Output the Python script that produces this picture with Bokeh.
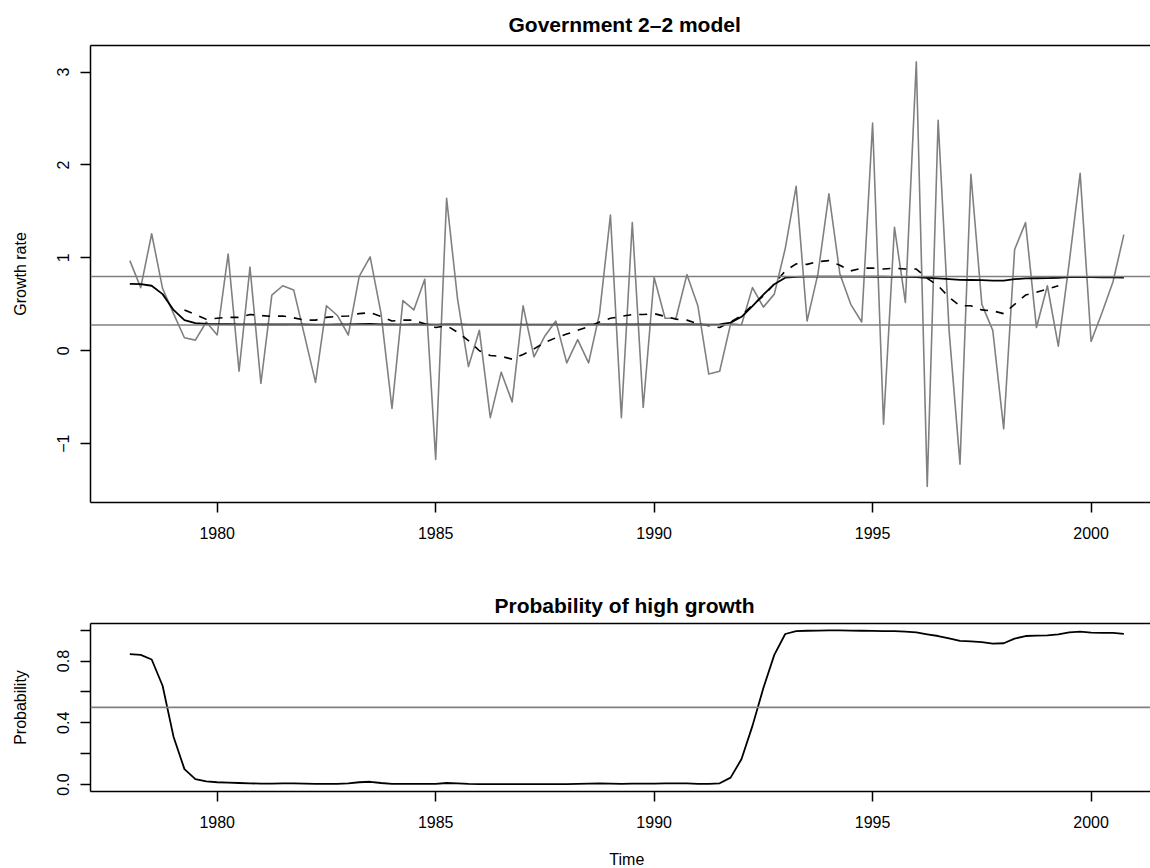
import numpy as np
from bokeh.plotting import figure
from bokeh.models import (Range1d, Span, Title, FixedTicker, LinearAxis,
                          PrintfTickFormatter, ColumnDataSource)
from bokeh.core.properties import value
from bokeh.layouts import column
from bokeh.embed import file_html
from bokeh.resources import INLINE

# ---------------- data ----------------
start_year = 1978.0
periods_per_year = 4

growth = [0.97, 0.68, 1.26, 0.67, 0.40, 0.14, 0.115, 0.31, 0.17, 1.04,
          -0.22, 0.90, -0.35, 0.60, 0.70, 0.655, 0.16, -0.34, 0.485, 0.38,
          0.17, 0.80, 1.01, 0.40, -0.62, 0.54, 0.44, 0.77, -1.17, 1.64,
          0.56, -0.17, 0.22, -0.72, -0.23, -0.55, 0.485, -0.065, 0.16, 0.32,
          -0.13, 0.12, -0.13, 0.40, 1.46, -0.72, 1.38, -0.61, 0.79, 0.35,
          0.35, 0.82, 0.485, -0.25, -0.22, 0.29, 0.28, 0.68, 0.47, 0.61,
          1.10, 1.77, 0.32, 0.83, 1.69, 0.83, 0.50, 0.31, 2.45, -0.79,
          1.33, 0.52, 3.11, -1.46, 2.48, 0.22, -1.22, 1.90, 0.50, 0.22,
          -0.84, 1.09, 1.38, 0.25, 0.70, 0.05, 0.95, 1.91, 0.10, 0.41,
          0.74, 1.25]

smoothed = [0.720, 0.717, 0.700, 0.610, 0.440, 0.330, 0.297, 0.290, 0.288, 0.286,
            0.285, 0.284, 0.283, 0.283, 0.283, 0.284, 0.283, 0.282, 0.282, 0.283,
            0.284, 0.288, 0.290, 0.285, 0.283, 0.282, 0.283, 0.283, 0.282, 0.285,
            0.284, 0.282, 0.282, 0.282, 0.282, 0.282, 0.282, 0.282, 0.282, 0.282,
            0.282, 0.282, 0.283, 0.284, 0.283, 0.283, 0.283, 0.283, 0.283, 0.284,
            0.284, 0.284, 0.283, 0.282, 0.284, 0.303, 0.366, 0.480, 0.605, 0.717,
            0.787, 0.796, 0.798, 0.798, 0.799, 0.799, 0.798, 0.798, 0.797, 0.797,
            0.796, 0.795, 0.792, 0.786, 0.780, 0.772, 0.763, 0.762, 0.760, 0.755,
            0.756, 0.771, 0.780, 0.781, 0.782, 0.786, 0.793, 0.795, 0.792, 0.791,
            0.791, 0.788]

filtered = [None, None, None, None, None, 0.44, 0.39, 0.34, 0.35, 0.36,
            0.36, 0.39, 0.38, 0.37, 0.375, 0.355, 0.33, 0.33, 0.36, 0.37,
            0.375, 0.40, 0.41, 0.37, 0.32, 0.33, 0.33, 0.29, 0.25, 0.27,
            0.20, 0.11, 0.00, -0.05, -0.06, -0.09, -0.04, 0.02, 0.09, 0.14,
            0.18, 0.22, 0.26, 0.31, 0.35, 0.37, 0.39, 0.39, 0.40, 0.37,
            0.34, 0.33, 0.29, 0.27, 0.25, 0.31, 0.38, 0.49, 0.59, 0.72,
            0.86, 0.935, 0.93, 0.96, 0.97, 0.92, 0.86, 0.89, 0.89, 0.88,
            0.89, 0.88, 0.88, 0.78, 0.70, 0.575, 0.485, 0.485, 0.44, 0.43,
            0.40, 0.50, 0.60, 0.63, 0.665, 0.70, None, None, None, None,
            None, None]

prob_high = [0.845, 0.840, 0.810, 0.640, 0.310, 0.100, 0.035, 0.020, 0.015, 0.012,
             0.010, 0.008, 0.006, 0.006, 0.007, 0.008, 0.006, 0.004, 0.004, 0.005,
             0.008, 0.015, 0.018, 0.010, 0.005, 0.004, 0.005, 0.005, 0.004, 0.010,
             0.008, 0.004, 0.003, 0.003, 0.003, 0.003, 0.003, 0.003, 0.003, 0.003,
             0.003, 0.004, 0.006, 0.008, 0.006, 0.005, 0.006, 0.006, 0.006, 0.007,
             0.008, 0.007, 0.005, 0.004, 0.008, 0.045, 0.165, 0.380, 0.625, 0.840,
             0.975, 0.993, 0.996, 0.997, 0.998, 0.998, 0.997, 0.996, 0.995, 0.994,
             0.993, 0.990, 0.985, 0.973, 0.962, 0.946, 0.930, 0.927, 0.923, 0.913,
             0.915, 0.945, 0.962, 0.964, 0.966, 0.973, 0.986, 0.990, 0.984, 0.982,
             0.982, 0.976]

mu_low = 0.277
mu_high = 0.80
prob_threshold = 0.5

x_ticks = [1980, 1985, 1990, 1995, 2000]
growth_ticks = [-1, 0, 1, 2, 3]
prob_ticks = [0.0, 0.4, 0.8]
prob_minor_ticks = [0.2, 0.6, 1.0]

title_top = "Government 2–2 model"
title_bottom = "Probability of high growth"
ylabel_top = "Growth rate"
ylabel_bottom = "Probability"
xlabel = "Time"

# ---------------- derived ----------------
n = len(growth)
time = start_year + np.arange(n) / periods_per_year
src = ColumnDataSource(dict(
    t=time,
    g=np.array(growth, dtype=float),
    s=np.array(smoothed, dtype=float),
    f=np.array([np.nan if v is None else v for v in filtered], dtype=float),
    p=np.array(prob_high, dtype=float),
))

FONT = "Liberation Sans"
GRAY = "#808080"
X0, X1 = 1977.10, 2001.36
XMID = (time[0] + time[-1]) / 2


def style(p, major, minor, ylabel):
    p.outline_line_color = None
    p.grid.visible = False
    p.background_fill_color = "white"
    p.border_fill_color = "white"
    xa = p.xaxis[0]
    xa.ticker = FixedTicker(ticks=x_ticks, minor_ticks=[])
    ya = p.yaxis[0]
    ya.ticker = FixedTicker(ticks=major, minor_ticks=minor)
    for ax in (xa, ya):
        ax.axis_line_color = "black"
        ax.axis_line_width = 1.5
        ax.major_tick_line_color = "black"
        ax.major_tick_line_width = 1.5
        ax.major_tick_in = 0
        ax.major_tick_out = 10
        ax.minor_tick_line_color = "black"
        ax.minor_tick_line_width = 1.5
        ax.minor_tick_in = 0
        ax.minor_tick_out = 10
        ax.major_label_text_font = FONT
        ax.major_label_text_font_size = "16px"
        ax.major_label_text_color = "black"
    xa.major_label_standoff = 14
    ya.major_label_standoff = 11
    ya.major_label_orientation = "vertical"
    ya.axis_label = ylabel
    ya.axis_label_text_font = FONT
    ya.axis_label_text_font_size = "16px"
    ya.axis_label_text_font_style = "normal"
    ya.axis_label_text_color = "black"
    ya.axis_label_standoff = 26
    top = LinearAxis(ticker=FixedTicker(ticks=[]), axis_line_color="black",
                     axis_line_width=1.5, major_tick_line_color=None,
                     minor_tick_line_color=None, major_label_text_font_size="0px",
                     major_label_standoff=0, major_tick_out=0, major_tick_in=0)
    p.add_layout(top, "above")


def add_title(p, text, offset, standoff):
    p.add_layout(Title(text=text, align="left", offset=offset,
                       text_font=FONT, text_font_size="21px",
                       text_font_style="bold", text_color="black",
                       standoff=standoff), "above")


# ---------------- top panel ----------------
p1 = figure(width=1150, height=560, x_range=Range1d(X0, X1),
            y_range=Range1d(-1.633, 3.286), output_backend="svg",
            toolbar_location=None, min_border_left=90, min_border_right=0,
            min_border_top=45, min_border_bottom=58)
style(p1, growth_ticks, [], ylabel_top)
p1.yaxis[0].major_label_overrides = {-1: "−1"}
add_title(p1, title_top, 418, 19)

p1.line("t", "g", source=src, line_color=GRAY, line_width=1.6, line_join="round")
p1.add_layout(Span(location=mu_high, dimension="width", line_color=GRAY, line_width=1.6))
p1.add_layout(Span(location=mu_low, dimension="width", line_color=GRAY, line_width=1.6))
p1.line("t", "f", source=src, line_color="black", line_width=1.6,
        line_dash="8 8", line_join="round")
p1.line("t", "s", source=src, line_color="black", line_width=1.8, line_join="round")

# ---------------- bottom panel ----------------
p2 = figure(width=1150, height=279, x_range=Range1d(X0, X1),
            y_range=Range1d(-0.045, 1.043), output_backend="svg",
            toolbar_location=None, min_border_left=90, min_border_right=0,
            min_border_top=63, min_border_bottom=48)
style(p2, prob_ticks, prob_minor_ticks, ylabel_bottom)
p2.yaxis[0].formatter = PrintfTickFormatter(format="%.1f")
add_title(p2, title_bottom, 404, 14)

p2.add_layout(Span(location=prob_threshold, dimension="width", line_color=GRAY, line_width=1.6))
p2.line("t", "p", source=src, line_color="black", line_width=1.8, line_join="round")

# ---------------- x-axis title strip ----------------
p3 = figure(width=1150, height=29, x_range=Range1d(X0, X1),
            y_range=Range1d(0, 29), output_backend="svg", toolbar_location=None,
            x_axis_type=None, y_axis_type=None, min_border_left=90,
            min_border_right=0, min_border_top=0, min_border_bottom=0)
p3.outline_line_color = None
p3.grid.visible = False
p3.text(x=[XMID], y=[0.5], text=[xlabel], text_align="center",
        text_baseline="bottom", text_font=value(FONT),
        text_font_size="16px", text_color="black")

layout = column(p1, p2, p3)
open("out.html", "w").write(file_html(layout, INLINE))
